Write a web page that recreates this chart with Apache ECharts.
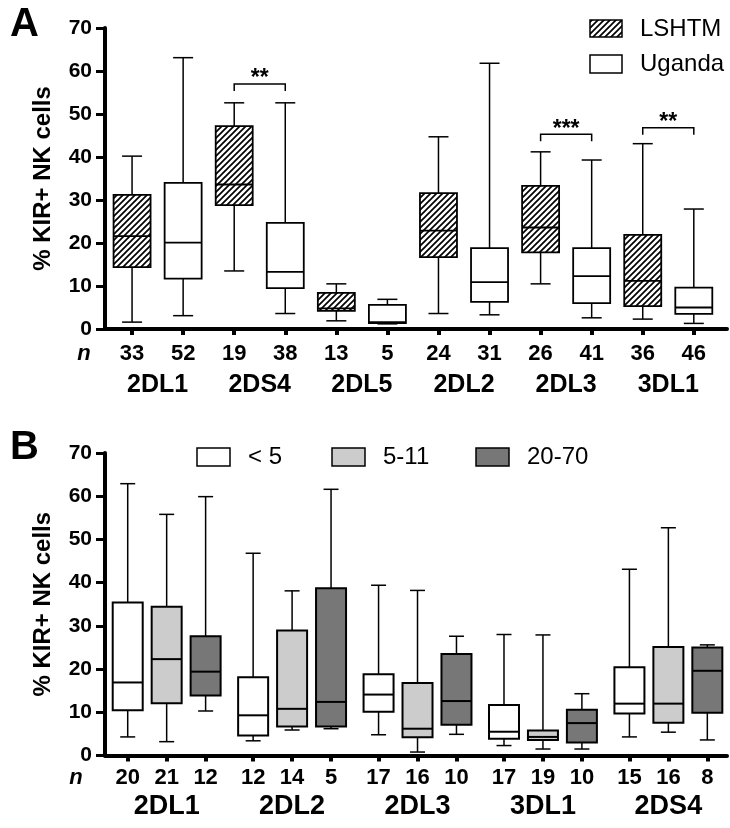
<!DOCTYPE html>
<html><head><meta charset="utf-8">
<script src="https://cdn.jsdelivr.net/npm/echarts@6/dist/echarts.min.js"></script>
<style>html,body{margin:0;padding:0;background:#fff}#c{width:730px;height:828px}</style>
</head><body><div id="c"></div>
<script>
// ---------- Panel A data ----------
const aGroups = ['2DL1', '2DS4', '2DL5', '2DL2', '2DL3', '3DL1'];
const aCohorts = ['LSHTM', 'Uganda'];
const aN = [33, 52, 19, 38, 13, 5, 24, 31, 26, 41, 36, 46];
// each row: [min, Q1, median, Q3, max]
const aLSHTM = [
  [1.6, 14.4, 21.6, 31.2, 40.2],
  [13.5, 28.8, 33.6, 47.2, 52.6],
  [1.9, 4.2, 4.8, 8.4, 10.5],
  [3.6, 16.7, 22.9, 31.6, 44.7],
  [10.5, 17.8, 23.6, 33.3, 41.2],
  [2.3, 5.3, 11.2, 21.9, 43.1]
];
const aUganda = [
  [3.1, 11.7, 20.1, 34.0, 63.1],
  [3.6, 9.5, 13.3, 24.7, 52.6],
  [1.2, 1.4, 1.6, 5.6, 6.9],
  [3.3, 6.3, 10.9, 18.8, 61.8],
  [2.6, 6.0, 12.3, 18.8, 39.3],
  [1.3, 3.5, 5.0, 9.6, 27.9]
];
// significance: [group, bracket level, label]
const aSig = [['2DS4', 57.0, '**'], ['2DL3', 45.3, '***'], ['3DL1', 46.8, '**']];

// ---------- Panel B data ----------
const bGroups = ['2DL1', '2DL2', '2DL3', '3DL1', '2DS4'];
const bAges = ['< 5', '5-11', '20-70'];
const bN = [[20, 21, 12], [12, 14, 5], [17, 16, 10], [17, 19, 10], [15, 16, 8]];
const bUnder5 = [
  [4.3, 10.5, 16.9, 35.4, 62.9],
  [3.4, 4.6, 9.3, 18.1, 46.8],
  [4.8, 10.1, 14.1, 18.8, 39.4],
  [2.3, 3.9, 5.5, 11.7, 28.0],
  [4.3, 9.7, 12.0, 20.4, 43.1]
];
const b5to11 = [
  [3.2, 12.1, 22.3, 34.4, 55.8],
  [5.9, 6.7, 10.8, 28.9, 38.1],
  [0.8, 4.2, 6.2, 16.8, 38.2],
  [1.5, 3.6, 4.3, 5.8, 27.9],
  [5.4, 7.6, 12.0, 25.1, 52.7]
];
const b20to70 = [
  [10.3, 13.9, 19.4, 27.6, 59.9],
  [6.2, 6.7, 12.4, 38.7, 61.6],
  [4.9, 7.1, 12.6, 23.5, 27.6],
  [1.5, 3.0, 7.5, 10.6, 14.3],
  [3.6, 9.9, 19.6, 25.0, 25.6]
];

const yTitle = '% KIR+ NK cells';

// ---------- build ----------
const FONT = '"Liberation Sans", Arial, Helvetica, sans-serif';

function makeHatch() {
  const s = 6, c = document.createElement('canvas');
  c.width = s; c.height = s;
  const g = c.getContext('2d');
  g.fillStyle = '#fff'; g.fillRect(0, 0, s, s);
  g.strokeStyle = '#000'; g.lineWidth = 1.7; g.beginPath();
  g.moveTo(-1, s + 1); g.lineTo(s + 1, -1);
  g.moveTo(-1, 1); g.lineTo(1, -1);
  g.moveTo(s - 1, s + 1); g.lineTo(s + 1, s - 1);
  g.stroke();
  return c;
}
const hatch = { image: makeHatch(), repeat: 'repeat' };

// Panel A positions: uniform
const posA = aN.map((_, i) => i);
const centersA = aGroups.map((_, g) => 2 * g + 0.5);
const boxA = [];
aGroups.forEach((_, g) => {
  boxA.push([2 * g].concat(aLSHTM[g], [0]));
  boxA.push([2 * g + 1].concat(aUganda[g], [1]));
});
const sigA = aSig.map(s => {
  const g = aGroups.indexOf(s[0]);
  return [2 * g, 2 * g + 1, s[1]];
});

// Panel B positions: groups of 3 with wider gap
const GAP = 3.22;
const posB = [], nB = [], boxB = [];
const bSets = [bUnder5, b5to11, b20to70];
bGroups.forEach((_, g) => {
  for (let i = 0; i < 3; i++) {
    const p = g * GAP + i;
    posB.push(p); nB.push(bN[g][i]);
    boxB.push([p].concat(bSets[i][g], [i]));
  }
});
const centersB = bGroups.map((_, g) => g * GAP + 1);

function lookup(pos, labels) {
  return function (v) {
    for (let i = 0; i < pos.length; i++) if (Math.abs(pos[i] - v) < 1e-6) return String(labels[i]);
    return '';
  };
}

function boxRenderer(boxW, capW, fills, lw, wlw) {
  return function (params, api) {
    const x = api.value(0);
    const ys = [1, 2, 3, 4, 5].map(d => api.coord([x, api.value(d)])[1]);
    const cx = api.coord([x, 0])[0];
    const fill = fills[api.value(6)];
    const ln = (x1, y1, x2, y2, w) => ({ type: 'line', shape: { x1, y1, x2, y2 }, style: { stroke: '#000', lineWidth: w } });
    return {
      type: 'group', children: [
        ln(cx, ys[4], cx, ys[3], wlw),
        ln(cx, ys[1], cx, ys[0], wlw),
        ln(cx - capW / 2, ys[4], cx + capW / 2, ys[4], wlw),
        ln(cx - capW / 2, ys[0], cx + capW / 2, ys[0], wlw),
        { type: 'rect', shape: { x: cx - boxW / 2, y: ys[3], width: boxW, height: ys[1] - ys[3] }, style: { fill: fill, stroke: '#000', lineWidth: lw } },
        ln(cx - boxW / 2, ys[2], cx + boxW / 2, ys[2], lw)
      ]
    };
  };
}

function sigRenderer(params, api) {
  const p1 = api.coord([api.value(0), api.value(2)]);
  const p2 = api.coord([api.value(1), api.value(2)]);
  const label = aSig[params.dataIndex][2];
  const y = p1[1], drop = 7;
  return {
    type: 'group', children: [
      { type: 'polyline', shape: { points: [[p1[0], y + drop], [p1[0], y], [p2[0], y], [p2[0], y + drop]] }, style: { stroke: '#000', lineWidth: 1.5, fill: null } },
      { type: 'text', x: (p1[0] + p2[0]) / 2, y: y - 5, style: { text: label, fill: '#000', fontFamily: FONT, fontWeight: 'bold', fontSize: 23, align: 'center', verticalAlign: 'middle' } }
    ]
  };
}

function yAxisCfg(gridIndex) {
  return {
    type: 'value', gridIndex, min: 0, max: 70, interval: 10,
    axisLine: { show: true, onZero: false, lineStyle: { color: '#000', width: 4 } },
    axisTick: { show: true, length: 9, lineStyle: { color: '#000', width: 3 } },
    axisLabel: { color: '#000', fontFamily: FONT, fontWeight: 'bold', fontSize: 21, margin: 13 },
    splitLine: { show: false },
    name: yTitle, nameLocation: 'middle', nameGap: 50, nameRotate: 90,
    nameTextStyle: { color: '#000', fontFamily: FONT, fontWeight: 'bold', fontSize: 24 }
  };
}
function xAxisCfg(gridIndex, min, max, pos, labels, margin) {
  return {
    type: 'value', gridIndex, min, max, position: 'bottom',
    axisLine: { show: true, onZero: false, lineStyle: { color: '#000', width: 4 } },
    axisTick: { show: true, customValues: pos, length: 6, lineStyle: { color: '#000', width: 4 } },
    axisLabel: { customValues: pos, formatter: lookup(pos, labels), margin, color: '#000', fontFamily: FONT, fontWeight: 'bold', fontSize: 22 },
    splitLine: { show: false }
  };
}
function xGroupAxisCfg(gridIndex, min, max, pos, labels, margin, fs) {
  return {
    type: 'value', gridIndex, min, max, position: 'bottom',
    axisLine: { show: false }, axisTick: { show: false },
    axisLabel: { customValues: pos, formatter: lookup(pos, labels), margin, color: '#000', fontFamily: FONT, fontWeight: 'bold', fontSize: fs },
    splitLine: { show: false }
  };
}

const txt = (x, y, text, size, weight, align, style) => ({
  type: 'text', x, y, silent: true,
  style: { text, fill: '#000', fontFamily: FONT, fontSize: size, fontWeight: weight || 'normal', fontStyle: style || 'normal', align: align || 'left', verticalAlign: 'middle' }
});
const rect = (x, y, w, h, fill) => ({ type: 'rect', silent: true, shape: { x, y, width: w, height: h }, style: { fill, stroke: '#000', lineWidth: 1.5 } });

const fillsB = ['#ffffff', '#cccccc', '#777777'];

const option = {
  animation: false,
  backgroundColor: '#fff',
  grid: [
    { left: 105, top: 28, width: 622, height: 301, outerBoundsMode: 'none' },
    { left: 105, top: 453, width: 622, height: 302.5, outerBoundsMode: 'none' }
  ],
  xAxis: [
    xAxisCfg(0, -0.53, 11.65, posA, aN, 14),
    xGroupAxisCfg(0, -0.53, 11.65, centersA, aGroups, 44, 25),
    xAxisCfg(1, -0.583, 15.385, posB, nB, 11),
    xGroupAxisCfg(1, -0.583, 15.385, centersB, bGroups, 38, 27)
  ],
  yAxis: [yAxisCfg(0), yAxisCfg(1)],
  series: [
    { type: 'custom', name: 'A', xAxisIndex: 0, yAxisIndex: 0, data: boxA, encode: { x: 0, y: [1, 2, 3, 4, 5] },
      renderItem: boxRenderer(37, 20, [hatch, '#ffffff'], 1.8, 1.5), silent: true, clip: false },
    { type: 'custom', name: 'sig', xAxisIndex: 0, yAxisIndex: 0, data: sigA, encode: { x: [0, 1], y: 2 },
      renderItem: sigRenderer, silent: true, clip: false },
    { type: 'custom', name: 'B', xAxisIndex: 2, yAxisIndex: 1, data: boxB, encode: { x: 0, y: [1, 2, 3, 4, 5] },
      renderItem: boxRenderer(30, 15, fillsB, 2, 1.5), silent: true, clip: false }
  ],
  graphic: [
    txt(10, 25, 'A', 40, 'bold'),
    txt(10, 448, 'B', 40, 'bold'),
    txt(84, 354, 'n', 22, 'bold', 'center', 'italic'),
    txt(76, 778, 'n', 22, 'bold', 'center', 'italic'),
    rect(590, 20, 32, 17, hatch), txt(640, 29, aCohorts[0], 24),
    rect(590, 55, 32, 18, '#ffffff'), txt(640, 64, aCohorts[1], 24),
    rect(197, 448, 33, 18, fillsB[0]), txt(248, 457, bAges[0], 24),
    rect(332, 448, 33, 18, fillsB[1]), txt(383, 457, bAges[1], 24),
    rect(476, 448, 33, 18, fillsB[2]), txt(527, 457, bAges[2], 24)
  ]
};
const chart = echarts.init(document.getElementById('c'), null, { renderer: 'canvas', width: 730, height: 828 });
chart.setOption(option);
</script>
</body></html>
